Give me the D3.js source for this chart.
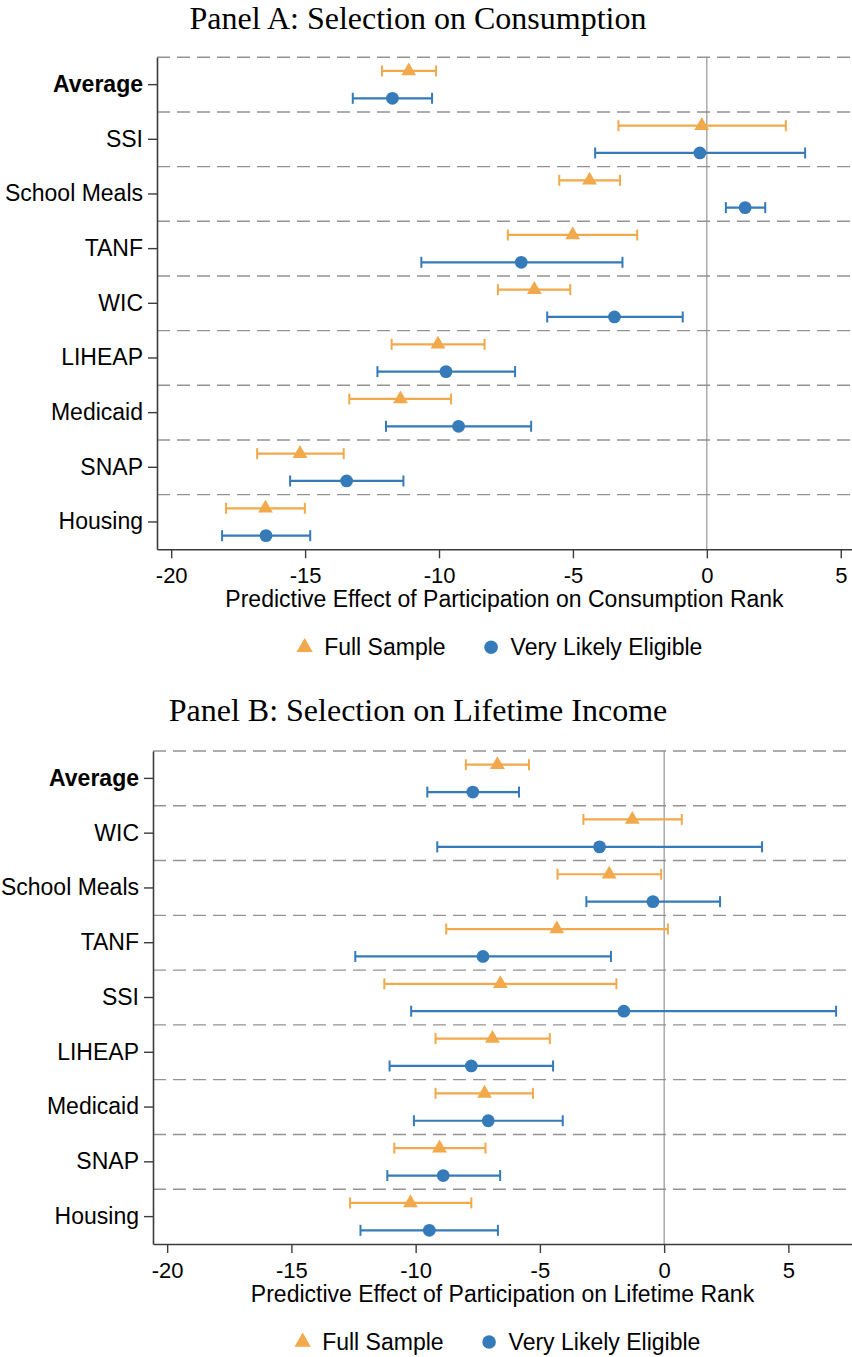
<!DOCTYPE html>
<html>
<head>
<meta charset="utf-8">
<script src="https://cdn.jsdelivr.net/npm/d3@7"></script>
<style>
  html, body { margin: 0; padding: 0; background: #ffffff; }
  svg { display: block; }
</style>
</head>
<body>
<svg id="chart" width="852" height="1357"></svg>
<script>
// ---- Panel A: selection on consumption ----
const panelACategories = ["Average", "SSI", "School Meals", "TANF", "WIC", "LIHEAP", "Medicaid", "SNAP", "Housing"];
const panelAFullEst  = [-11.13, -0.19, -4.38, -5.01, -6.44, -10.04, -11.44, -15.19, -16.48];
const panelAFullLo   = [-12.13, -3.30, -5.51, -7.43, -7.80, -11.77, -13.35, -16.79, -17.95];
const panelAFullHi   = [-10.11,  2.95, -3.24, -2.60, -5.10,  -8.30,  -9.55, -13.56, -15.01];
const panelAEligEst  = [-11.74, -0.26,  1.43, -6.93, -3.45,  -9.74,  -9.27, -13.45, -16.46];
const panelAEligLo   = [-13.22, -4.17,  0.71, -10.66, -5.96, -12.30, -11.98, -15.56, -18.10];
const panelAEligHi   = [-10.26,  3.67,  2.18, -3.15, -0.90,  -7.16,  -6.56, -11.33, -14.81];

// ---- Panel B: selection on lifetime income ----
const panelBCategories = ["Average", "WIC", "School Meals", "TANF", "SSI", "LIHEAP", "Medicaid", "SNAP", "Housing"];
const panelBFullEst  = [-6.71, -1.28, -2.21, -4.32, -6.59, -6.91, -7.23, -9.04, -10.21];
const panelBFullLo   = [-7.98, -3.25, -4.29, -8.77, -11.26, -9.20, -9.20, -10.86, -12.64];
const panelBFullHi   = [-5.44,  0.71, -0.12,  0.15, -1.92, -4.60, -5.28, -7.19, -7.76];
const panelBEligEst  = [-7.70, -2.60, -0.45, -7.29, -1.62, -7.76, -7.08, -8.89, -9.45];
const panelBEligLo   = [-9.53, -9.13, -3.13, -12.43, -10.18, -11.05, -10.07, -11.14, -12.22];
const panelBEligHi   = [-5.84,  3.94,  2.25, -2.14,  6.92, -4.47, -4.08, -6.60, -6.69];

// ---- shared axis ticks and legend ----
const xTickValues = [-20, -15, -10, -5, 0, 5];
const xTickLabels = ["-20", "-15", "-10", "-5", "0", "5"];
const seriesNames = ["Full Sample", "Very Likely Eligible"];

const SANS = "'Liberation Sans', Arial, Helvetica, sans-serif";
const SERIF = "'Liberation Serif', 'Times New Roman', Times, serif";
const ORANGE = "#f1a94b";
const BLUE = "#357ab9";
const AXIS_COLOR = "#3c3c3c";

const svg = d3.select("#chart");

function triangle(size) { return d3.symbol(d3.symbolTriangle, size)(); }

function drawPanel(p) {
  const g = svg.append("g");
  const x = d3.scaleLinear().domain(p.xDomain).range([p.left, p.right]);
  const y = d3.scaleBand().domain(p.categories).range([p.top, p.bottom]);
  const bw = y.bandwidth();
  const plotCenter = (p.left + p.right) / 2;

  // title
  g.append("text")
    .attr("x", p.titleX).attr("y", p.titleY)
    .attr("text-anchor", "middle")
    .attr("font-family", SERIF).attr("font-size", 32)
    .attr("fill", "#000")
    .text(p.title);

  // dashed separators between programs
  g.append("g").selectAll("line")
    .data(p.categories)
    .join("line")
    .attr("x1", p.left).attr("x2", p.right)
    .attr("y1", d => y(d)).attr("y2", d => y(d))
    .attr("stroke", "#939393").attr("stroke-width", 1.4)
    .attr("stroke-dasharray", "13 7");

  // zero reference line
  g.append("line")
    .attr("x1", x(0)).attr("x2", x(0))
    .attr("y1", p.top).attr("y2", p.bottom)
    .attr("stroke", "#8c8c8c").attr("stroke-width", 1.1);

  // bottom axis
  const xa = g.append("g")
    .attr("transform", `translate(0,${p.bottom})`)
    .call(d3.axisBottom(x)
      .tickValues(xTickValues)
      .tickFormat((d, i) => xTickLabels[i])
      .tickSize(9).tickSizeOuter(0).tickPadding(9));
  xa.select(".domain").attr("stroke", AXIS_COLOR).attr("stroke-width", 1.6);
  xa.selectAll(".tick line").attr("stroke", AXIS_COLOR).attr("stroke-width", 1.4);
  xa.selectAll(".tick text").attr("font-family", SANS).attr("font-size", 22).attr("fill", "#000");

  // left axis with program names
  const ya = g.append("g")
    .attr("transform", `translate(${p.left},0)`)
    .call(d3.axisLeft(y).tickSize(9).tickSizeOuter(0).tickPadding(5));
  ya.select(".domain").attr("stroke", AXIS_COLOR).attr("stroke-width", 1.6);
  ya.selectAll(".tick line").attr("stroke", AXIS_COLOR).attr("stroke-width", 1.4);
  ya.selectAll(".tick text")
    .attr("font-family", SANS).attr("font-size", 23).attr("fill", "#000")
    .attr("font-weight", d => d === "Average" ? "bold" : "normal");

  // axis title
  g.append("text")
    .attr("x", plotCenter).attr("y", p.bottom + 58)
    .attr("text-anchor", "middle")
    .attr("font-family", SANS).attr("font-size", 23).attr("fill", "#000")
    .text(p.xTitle);

  // estimates with 95% intervals
  const series = [
    { est: p.fullEst, lo: p.fullLo, hi: p.fullHi, color: ORANGE, shape: "triangle", pos: 0.25 },
    { est: p.eligEst, lo: p.eligLo, hi: p.eligHi, color: BLUE, shape: "circle", pos: 0.75 }
  ];
  series.forEach(s => {
    const rows = p.categories.map((c, i) => ({ c, est: s.est[i], lo: s.lo[i], hi: s.hi[i] }));
    const sg = g.append("g");
    const yy = d => y(d.c) + bw * s.pos;
    sg.selectAll("line.ci").data(rows).join("line")
      .attr("class", "ci")
      .attr("x1", d => x(d.lo)).attr("x2", d => x(d.hi))
      .attr("y1", yy).attr("y2", yy)
      .attr("stroke", s.color).attr("stroke-width", 2.2);
    sg.selectAll("line.caplo").data(rows).join("line")
      .attr("class", "caplo")
      .attr("x1", d => x(d.lo)).attr("x2", d => x(d.lo))
      .attr("y1", d => yy(d) - 5.5).attr("y2", d => yy(d) + 5.5)
      .attr("stroke", s.color).attr("stroke-width", 2);
    sg.selectAll("line.caphi").data(rows).join("line")
      .attr("class", "caphi")
      .attr("x1", d => x(d.hi)).attr("x2", d => x(d.hi))
      .attr("y1", d => yy(d) - 5.5).attr("y2", d => yy(d) + 5.5)
      .attr("stroke", s.color).attr("stroke-width", 2);
    if (s.shape === "triangle") {
      sg.selectAll("path.mk").data(rows).join("path")
        .attr("class", "mk")
        .attr("d", triangle(95))
        .attr("transform", d => `translate(${x(d.est)},${yy(d)})`)
        .attr("fill", s.color);
    } else {
      sg.selectAll("circle.mk").data(rows).join("circle")
        .attr("class", "mk")
        .attr("cx", d => x(d.est)).attr("cy", yy)
        .attr("r", 6.4)
        .attr("fill", s.color);
    }
  });

  // legend
  const ly = p.bottom + 106;
  const leg = g.append("g");
  const t1 = leg.append("text").attr("font-family", SANS).attr("font-size", 23).attr("fill", "#000").text(seriesNames[0]);
  const t2 = leg.append("text").attr("font-family", SANS).attr("font-size", 23).attr("fill", "#000").text(seriesNames[1]);
  const w1 = t1.node().getComputedTextLength();
  const w2 = t2.node().getComputedTextLength();
  const mk = 19.5, gap = 45.5;
  const total = 8 + mk + w1 + gap + mk + w2;
  let cx = plotCenter - 5 - total / 2 + 8;
  leg.append("path").attr("d", triangle(115))
    .attr("transform", `translate(${cx},${ly - 8})`).attr("fill", ORANGE);
  t1.attr("x", cx + mk).attr("y", ly);
  cx = cx + mk + w1 + gap;
  leg.append("circle").attr("cx", cx).attr("cy", ly - 8).attr("r", 6.8).attr("fill", BLUE);
  t2.attr("x", cx + mk).attr("y", ly);
}

drawPanel({
  title: "Panel A: Selection on Consumption",
  titleX: 418, titleY: 29,
  xTitle: "Predictive Effect of Participation on Consumption Rank",
  categories: panelACategories,
  fullEst: panelAFullEst, fullLo: panelAFullLo, fullHi: panelAFullHi,
  eligEst: panelAEligEst, eligLo: panelAEligLo, eligHi: panelAEligHi,
  xDomain: [-20.53, 5.42],
  left: 157, right: 852, top: 57.3, bottom: 549.3
});

drawPanel({
  title: "Panel B: Selection on Lifetime Income",
  titleX: 418, titleY: 721,
  xTitle: "Predictive Effect of Participation on Lifetime Rank",
  categories: panelBCategories,
  fullEst: panelBFullEst, fullLo: panelBFullLo, fullHi: panelBFullHi,
  eligEst: panelBEligEst, eligLo: panelBEligLo, eligHi: panelBEligHi,
  xDomain: [-20.57, 7.56],
  left: 153, right: 852, top: 751, bottom: 1244
});
</script>
</body>
</html>
